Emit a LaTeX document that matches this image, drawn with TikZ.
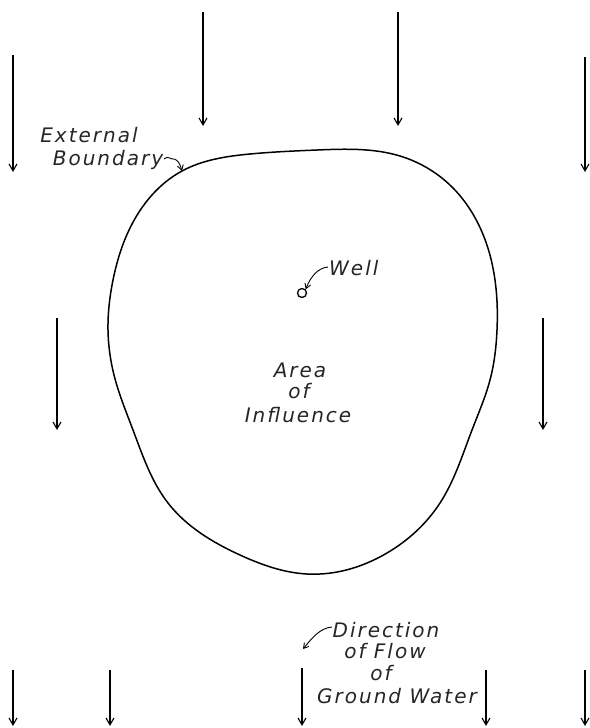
\documentclass[tikz,border=0pt]{standalone}
\usepackage{fontspec}
\usetikzlibrary{arrows.meta,hobby}
\newfontfamily\letterfont[LetterSpace=10]{DejaVu Sans}
\begin{document}
\begin{tikzpicture}[x=1pt,y=-1pt,
  flow/.style={line width=1.7pt,-{Straight Barb[length=7pt,width=8pt,line width=1.1pt]}},
  lead/.style={line width=0.9pt,-{Straight Barb[length=5pt,width=6pt]}},
  lbl/.style={font=\letterfont\itshape\fontsize{20}{22}\selectfont, inner sep=0pt, anchor=base, text=black!85},
  bound/.style={line width=1.5pt}]
\useasboundingbox[fill=white] (0,0) rectangle (589,728);
% flow arrows
\foreach \n/\x/\ya/\yb in {a/13/55/172, b/203/12/126, c/398/12/126, d/585/57/172,
  e/57/318/430, f/543/318/430,
  g/13/670/726, h/110/670/726, i/302/668/726, j/486/670/726, k/585/670/726} {
  \coordinate (s\n) at (\x,\ya);
  \coordinate (e\n) at (\x,\yb);
  \draw[flow] (s\n) -- (e\n);
}
% boundary
\draw[bound, use Hobby shortcut, closed=true]
  (108,330) .. (113,280) .. (130,228) .. (182,171) .. (250,154) .. (317,150)
  .. (400,156) .. (452,187) .. (482,232) .. (495,280) .. (497,330) .. (490,380)
  .. (472,430) .. (440,503) .. (387,553) .. (307,574) .. (240,555) .. (168,503)
  .. (133,430) .. (114,375);
\coordinate (bpt) at (182,171);
% well
\node[circle,draw,line width=1.3pt,minimum size=9pt,inner sep=0pt] (well) at (302,293) {};
\node[lbl,anchor=base west] (welltext) at (329,275) {Well};
\coordinate (wstart) at (328,267);
\draw[lead] (wstart) .. controls (318,268) and (311,276) .. (well.north east);
% external boundary
\node[lbl] (ext1) at (89,142) {External};
\node[lbl] (ext2) at (108,165) {Boundary};
\coordinate (bstart) at (164,159);
\draw[lead] (bstart) .. controls (168,155) and (171,160) .. (174,159)
  .. controls (178,160) and (180,164) .. (bpt);
% area of influence
\node[lbl] (area1) at (300,377) {Area};
\node[lbl] (area2) at (299,398) {of};
\node[lbl] (area3) at (298,422) {Influence};
% direction of flow
\node[lbl] (dir1) at (386,637) {Direction};
\node[lbl] (dir2) at (385,658) {of Flow};
\node[lbl] (dir3) at (381,680) {of};
\node[lbl] (dir4) at (397,703) {Ground Water};
\coordinate (dstart) at (332,627);
\coordinate (dpt) at (303,649);
\draw[lead] (dstart) .. controls (320,628) and (312,638) .. (dpt);
\end{tikzpicture}
\end{document}
